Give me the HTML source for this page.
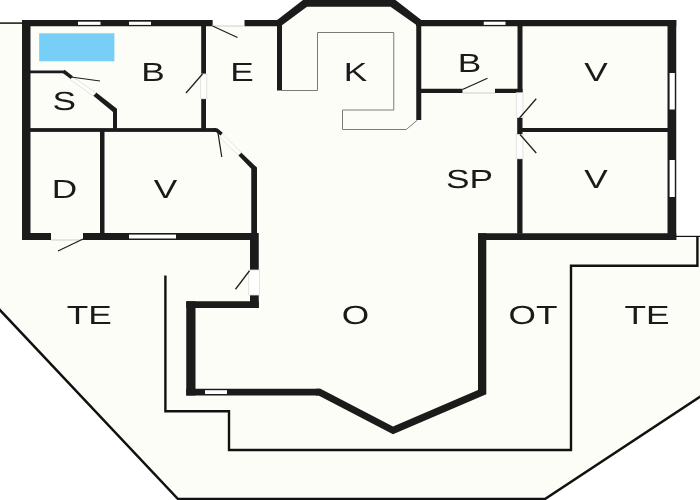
<!DOCTYPE html>
<html>
<head>
<meta charset="utf-8">
<title>Floor plan</title>
<style>
  html, body { margin: 0; padding: 0; background: #ffffff; }
  body { width: 700px; height: 500px; overflow: hidden; font-family: "Liberation Sans", sans-serif; }
  svg { display: block; will-change: transform; }
  #labels { text-rendering: geometricPrecision; }
  .w { fill: #1b1b1b; }
  .ws { stroke: #1b1b1b; fill: none; }
  .win { fill: #ffffff; }
  .thin { stroke: #111; fill: none; stroke-width: 2.4; stroke-linejoin: miter; }
  .leaf { stroke: #1e1e1e; fill: none; stroke-width: 1.25; }
  .panel { fill: #fefefd; stroke: #dcdcd8; stroke-width: 0.8; }
  .thr { stroke: #cfcfca; stroke-width: 1; fill: none; }
  .cnt { stroke: #7a7a7a; stroke-width: 1; fill: none; }
  text { font-family: "Liberation Sans", sans-serif; font-size: 26.3px; fill: #1a1a1a; text-anchor: middle; }
</style>
</head>
<body>
<svg width="700" height="500" viewBox="0 0 700 500">
  <rect x="0" y="0" width="700" height="500" fill="#ffffff"/>
  <polygon fill="#fdfdf8" points="0,23 22,23 22,20 277.5,20 303,0 396,0 421.25,20 676,20 676,236 700,236 700,396.5 545,499 178,499 0,310"/>

  <!-- terrace outline -->
  <polyline class="thin" style="stroke-width:2.5" points="-1,309 178,499 545,499 701,396"/>
  <line x1="0" y1="23.1" x2="22" y2="23.1" stroke="#111" stroke-width="1.5"/>
  <!-- deck inner line -->
  <polyline class="thin" points="165.4,275.5 165.4,411.2 229,411.2 229,450 571,450 571,265.7 697.4,265.7 697.4,236.4"/>
  <line x1="676" y1="236.4" x2="700" y2="236.4" stroke="#111" stroke-width="1.2"/>

  <!-- kitchen counter -->
  <polyline class="cnt" points="282,90.5 317.5,90.5 317.5,32.5 393.75,32.5 393.75,110 342.5,110 342.5,129.5 406.25,129.5 417.5,120"/>

  <!-- blue tub -->
  <rect x="39.2" y="33.3" width="75.2" height="28" fill="#77cef6"/>

  <!-- ===== left wing walls ===== -->
  <rect class="w" x="22" y="20" width="190.8" height="6.25"/>
  <rect x="212.8" y="19.5" width="31.9" height="6" fill="#ffffff"/>
  <rect class="w" x="244.5" y="20" width="36" height="6.25"/>
  <rect class="w" x="22" y="20" width="8.5" height="220"/>
  <rect class="w" x="22" y="233" width="29" height="7"/>
  <rect class="w" x="83" y="233" width="175" height="7"/>
  <rect class="w" x="30" y="128.1" width="186" height="3.8"/>
  <rect class="w" x="100" y="130" width="4.5" height="104"/>
  <rect class="w" x="201.2" y="26" width="4.8" height="48"/>
  <rect class="w" x="201.2" y="98.75" width="4.8" height="31"/>
  <!-- S room -->
  <polyline class="ws" stroke-width="2.7" points="30,71.8 64.8,71.8"/>
  <polygon class="w" points="96.25,92.5 117,108.75 117,129 113,129 113,112 93,95.5"/>
  <!-- V room diagonal -->
  <polygon class="w" points="241.2,152.4 257,167.6 257,234 251.25,234 251.25,168.8 238.2,155.2"/>
  <!-- lower-left of O -->
  <rect class="w" x="250" y="233" width="8.75" height="37"/>
  <rect class="w" x="250" y="295" width="8.75" height="13"/>
  <rect class="w" x="186.25" y="301.25" width="72.5" height="6.75"/>
  <rect class="w" x="186.25" y="301.25" width="9.25" height="94.25"/>
  <rect class="w" x="186.25" y="388.75" width="134" height="6.75"/>
  <!-- bay -->
  <polygon class="w" points="318.5,395.5 393,434.3 486.3,394.3 486.3,233.25 478,233.25 478,390 393,426.5 320.5,388.75 316,388.75 316,395.5"/>

  <!-- ===== right wing walls ===== -->
  <rect class="w" x="478" y="233.25" width="198.25" height="6.75"/>
  <rect class="w" x="667.5" y="20" width="8.75" height="220"/>
  <rect class="w" x="416.25" y="20" width="260" height="6.25"/>
  <rect class="w" x="416.25" y="22" width="5" height="98"/>
  <rect class="w" x="277" y="22" width="5" height="68.5"/>
  <polygon class="w" points="277,24 277,20 277.8,19.6 303,0 395.5,0 421.3,20 421.3,26 416.4,26 416.4,25 390.5,6.8 307,6.8 282,25.2 282,26"/>
  <rect class="w" x="421" y="88.75" width="41.5" height="4.25"/>
  <rect class="w" x="495" y="88.75" width="27.5" height="4.25"/>
  <rect class="w" x="517.5" y="26" width="5" height="66.5"/>
  <rect class="w" x="517.2" y="117.5" width="5.3" height="17"/>
  <rect class="w" x="517.2" y="158.75" width="5.3" height="75"/>
  <rect class="w" x="522" y="128" width="146" height="4"/>

  <!-- windows -->
  <rect class="win" x="78" y="21.7" width="22.5" height="3.2"/>
  <rect class="win" x="129" y="21.7" width="22" height="3.2"/>
  <rect class="win" x="483.75" y="21.7" width="21.75" height="3.2"/>
  <rect class="win" x="129" y="234.6" width="47" height="3.9"/>
  <rect class="win" x="205" y="390.2" width="22" height="3.8"/>
  <rect class="win" x="669.6" y="73" width="5.2" height="36.5"/>
  <rect class="win" x="669.6" y="160" width="5.2" height="37"/>

  <!-- door panels -->
  <polygon class="panel" points="72,76.4 95.8,92.8 93,95.8 70,79.4"/>
  <rect class="panel" x="200.7" y="74" width="6.1" height="24.75"/>
  <polygon class="panel" points="222.4,133.8 241.2,152.4 238.2,155.2 219.6,137"/>
  <rect class="panel" x="248.75" y="270" width="10.75" height="25"/>
  <rect class="panel" x="516.25" y="92.8" width="6.75" height="24.7"/>
  <rect class="panel" x="516.25" y="134.5" width="6.75" height="24.25"/>
  <line class="thr" x1="51" y1="240" x2="83" y2="240"/>
  <line class="thr" x1="212" y1="26" x2="244.5" y2="26"/>
  <line class="thr" x1="462.5" y1="93" x2="495" y2="93"/>

  <!-- wall stubs over panels -->
  <polyline class="ws" stroke-width="3.6" stroke-linejoin="round" points="213,130 216.5,130 221.6,134.2"/>
  <polyline class="ws" stroke-width="3.6" points="63.5,71.2 71.8,77.6"/>
  <!-- door leaves -->
  <line class="leaf" x1="71" y1="77" x2="100" y2="81"/>
  <line class="leaf" x1="212.6" y1="26" x2="237.5" y2="37.5"/>
  <line class="leaf" x1="202.5" y1="74" x2="186" y2="93"/>
  <line class="leaf" x1="218" y1="133" x2="221.75" y2="157"/>
  <line class="leaf" x1="83" y1="239" x2="58" y2="251"/>
  <line class="leaf" x1="249.5" y1="270.75" x2="235.5" y2="289.25"/>
  <line class="leaf" x1="462.5" y1="89.5" x2="487.5" y2="78.25"/>
  <line class="leaf" x1="519.5" y1="118" x2="536.25" y2="98.75"/>
  <line class="leaf" x1="520" y1="134.5" x2="536.25" y2="153"/>

  <!-- labels -->
  <g id="labels">
  <text transform="translate(153,81.3) scale(1.34,1)">B</text>
  <text transform="translate(64.3,109.8) scale(1.34,1)">S</text>
  <text transform="translate(242,81.3) scale(1.34,1)">E</text>
  <text transform="translate(355.6,81.25) scale(1.34,1)">K</text>
  <text transform="translate(469.6,71.8) scale(1.34,1)">B</text>
  <text transform="translate(596,81.25) scale(1.34,1)">V</text>
  <text transform="translate(596,188) scale(1.34,1)">V</text>
  <text transform="translate(469.6,188) scale(1.34,1)">SP</text>
  <text transform="translate(64.4,197.7) scale(1.34,1)">D</text>
  <text transform="translate(165.6,198) scale(1.34,1)">V</text>
  <text transform="translate(89.25,324) scale(1.34,1)">TE</text>
  <text transform="translate(355.4,324) scale(1.34,1)">O</text>
  <text transform="translate(533,323.75) scale(1.34,1)">OT</text>
  <text transform="translate(646.9,323.75) scale(1.34,1)">TE</text>
  </g>
</svg>
</body>
</html>
